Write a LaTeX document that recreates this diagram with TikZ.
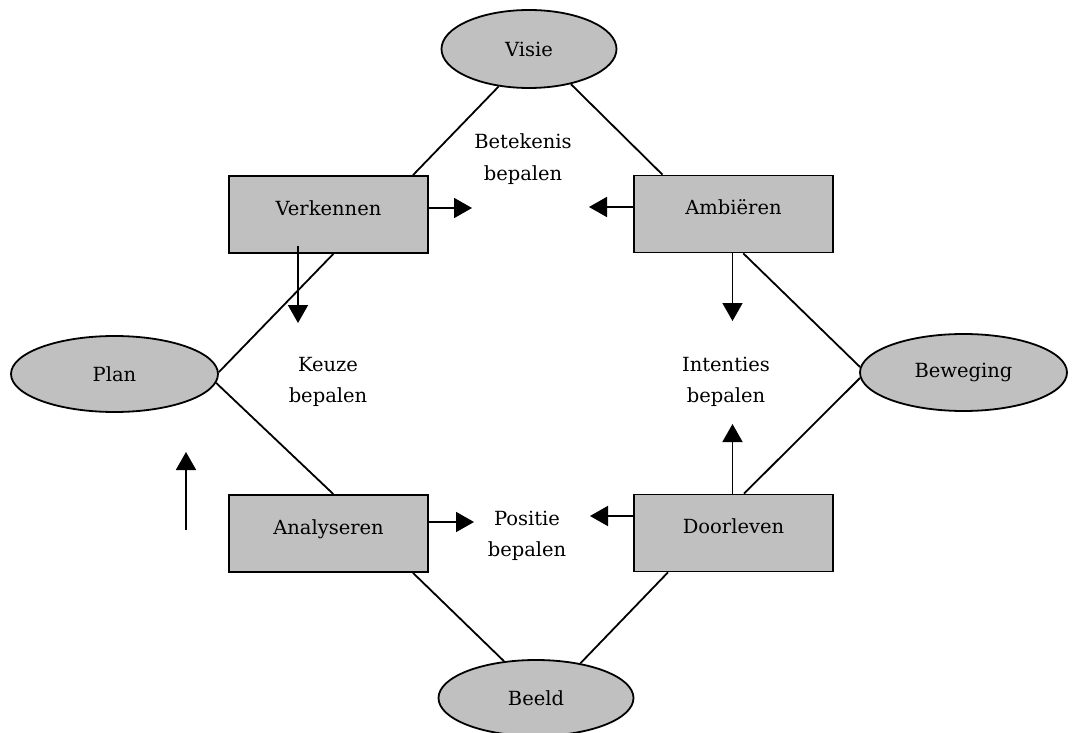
\documentclass[tikz,border=0pt]{standalone}
\usepackage{fontspec}
\setmainfont{DejaVu Serif}
\usetikzlibrary{arrows.meta, shapes.geometric}
\definecolor{boxgray}{RGB}{192,192,192}

\begin{document}
\begin{tikzpicture}[x=1pt, y=-1pt, line width=1.8pt,
  every node/.style={font=\fontsize{19.5}{31.5}\selectfont},
  box/.style={draw, fill=boxgray, minimum width=199pt, minimum height=77pt,
    inner sep=0pt, text height=14pt, text depth=13pt},
  oval/.style={draw, ellipse, fill=boxgray, inner sep=0pt},
  arr/.style={-{Triangle[length=18pt, width=20pt]}},
  lbl/.style={align=center}]
  \useasboundingbox (0,0) rectangle (1072,733);
  % the four ovals
  \node[oval, minimum width=175pt, minimum height=78pt] (visie) at (529,49) {Visie};
  \node[oval, minimum width=207pt, minimum height=76pt] (plan) at (114.5,374) {Plan};
  \node[oval, minimum width=207pt, minimum height=77pt] (beweging) at (963.5,372.5) {Beweging};
  \node[oval, minimum width=195pt, minimum height=76pt] (beeld) at (536,698) {Beeld};
  % the four boxes
  \node[box] (verkennen) at (328.5,214.5) {Verkennen};
  \node[box] (ambieren) at (733.5,214) {Ambiëren};
  \node[box] (analyseren) at (328.5,533.5) {Analyseren};
  \node[box] (doorleven) at (733.5,533) {Doorleven};
  % texts in between
  \node[lbl] (betekenis) at (523,159) {Betekenis\\bepalen};
  \node[lbl] (keuze) at (328,382) {Keuze\\bepalen};
  \node[lbl] (intenties) at (726,382) {Intenties\\bepalen};
  \node[lbl] (positie) at (527,536) {Positie\\bepalen};
  % diamond of lines
  \draw (visie.231) -- (verkennen.25);
  \draw (visie.320) -- (ambieren.151);
  \draw (verkennen.277) -- (plan.1);
  \draw (plan.355) -- (analyseren.83);
  \draw (analyseren.335) -- (beeld.131);
  \draw (doorleven.211) -- (beeld.38);
  \draw (ambieren.284) -- (beweging.177);
  \draw (beweging.183) -- (doorleven.75);
  % arrows
  \coordinate (tipa) at (472,208);
  \coordinate (tipb) at (589,207);
  \coordinate (tipc) at (298,323);
  \coordinate (tipd) at (732.5,321);
  \coordinate (tipe) at (732.5,424);
  \coordinate (tipf) at (474,522);
  \coordinate (tipg) at (590,516);
  \coordinate (tail) at (186,530);
  \coordinate (tiph) at (186,452);
  \draw[arr] (verkennen.east |- tipa) -- (tipa);
  \draw[arr] (ambieren.west |- tipb) -- (tipb);
  \draw[arr] ([yshift=8pt]tipc |- verkennen.south) -- (tipc);
  \draw[arr] (tipd |- ambieren.south) -- (tipd);
  \draw[arr] (tipe |- doorleven.north) -- (tipe);
  \draw[arr] (analyseren.east |- tipf) -- (tipf);
  \draw[arr] (doorleven.west |- tipg) -- (tipg);
  \draw[arr] (tail) -- (tiph);
\end{tikzpicture}
\end{document}
